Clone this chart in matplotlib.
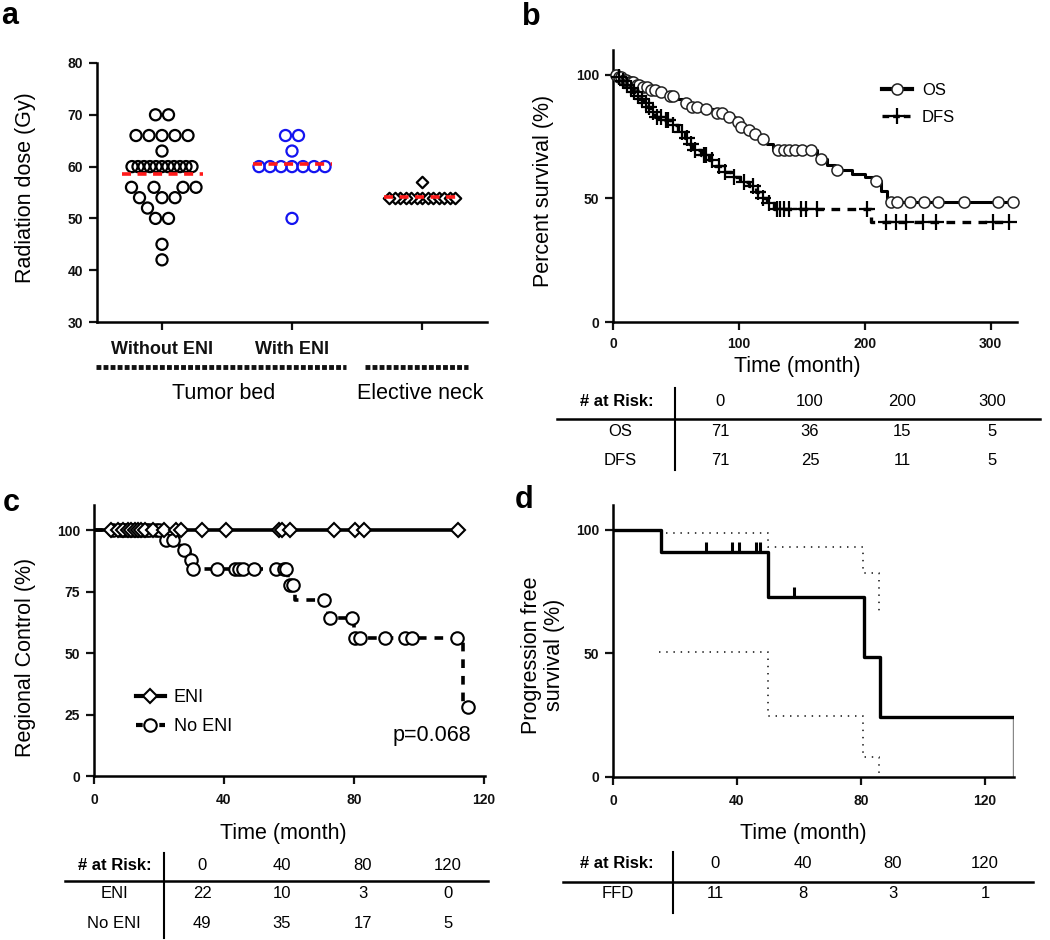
import numpy as np
import matplotlib
matplotlib.use("Agg")
import matplotlib.pyplot as plt
from matplotlib.lines import Line2D

plt.rcParams['font.family'] = ['Liberation Sans', 'DejaVu Sans']

# ---------------- data ----------------
# (a) radiation dose (Gy)
dose_without_eni = [70, 70, 66, 66, 66, 66, 66, 63, 60, 60, 60, 60, 60, 60, 60, 60, 60, 60, 60,
                    56, 56, 56, 56, 54, 54, 54, 52, 50, 50, 45, 42]
dose_with_eni = [66, 66, 63, 60, 60, 60, 60, 60, 60, 60, 50]
dose_elective = [57] + [54] * 13
cat_labels = ['Without ENI', 'With ENI', '']
group_names = ['Tumor bed', 'Elective neck']

# (b) overall / disease-free survival (time in months, survival in %)
os_event_t = [4, 8, 12, 17, 22, 28, 35, 42, 50, 56, 62, 70, 80, 90, 97, 100, 103, 110, 116, 122,
              127, 162, 170, 176, 190, 200, 207, 213, 218]
os_event_s = [99, 98, 97, 96, 95, 94, 93, 91.5, 90, 88.5, 87, 86, 84.5, 83, 81, 79, 77.5, 76, 74,
              72, 69.5, 66, 63.5, 61.5, 60, 58.5, 57, 53, 48.5]
os_censor_t = [2, 4.5, 6, 8.5, 10, 12.5, 14, 16, 19, 21, 24, 27, 30, 33, 38, 45, 48, 58, 63, 67,
               74, 83, 87, 92, 99, 102, 108, 113, 119, 131, 136, 140, 145, 150, 157, 165, 178,
               209, 221, 226, 236, 247, 258, 279, 306, 318]
dfs_event_t = [3, 6, 9, 12, 15, 18, 21, 24, 27, 30, 33, 40, 46, 52, 57, 60, 63, 70, 76, 81, 87,
               94, 101, 108, 114, 117, 122, 128, 205]
dfs_event_s = [99, 97.5, 96, 94.5, 93, 91.5, 90, 88.5, 87, 85, 83, 81.5, 79.5, 77, 74.5, 72, 69.5,
               67.5, 65.5, 63, 60.5, 58.5, 56.5, 55, 52.5, 50, 48, 45.5, 40.5]
dfs_censor_t = [5, 8, 11, 14, 17, 20, 23, 26, 29, 32, 35, 38, 42, 44, 48, 55, 59, 62, 65, 72, 74,
                79, 84, 89, 96, 104, 111, 115, 119, 124, 130, 133, 136, 140, 149, 153, 162, 202,
                217, 225, 233, 246, 257, 302, 315]
risk_b_times = [0, 100, 200, 300]
risk_b_os = [71, 36, 15, 5]
risk_b_dfs = [71, 25, 11, 5]

# (c) regional control
eni_censor_t = [5.3, 7.4, 8.9, 10.4, 11.5, 12.5, 13.5, 14.6, 15.6, 18.1, 21.7, 25.3, 26.8, 33.4,
                40.6, 56.9, 58.0, 60.5, 73.8, 80.5, 83.0, 112.2]
noeni_event_t = [21, 26.5, 29.5, 30.3, 59.7, 62, 72, 80, 113.5]
noeni_event_s = [96, 92, 88, 84.2, 77.8, 71.6, 64.2, 56.2, 28]
noeni_censor_t = [6, 8, 9, 10, 11, 12, 13, 14, 15, 16, 17, 19, 20, 22.2, 24.2, 27.8, 29.9, 30.6,
                  38, 43.3, 44.5, 46, 49.3, 56, 58.5, 59.2, 60.5, 61.3, 70.8, 72.8, 79.4, 80.5,
                  82, 89.7, 95.8, 97.9, 111.7, 115.2]
p_value_text = 'p=0.068'
risk_c_times = [0, 40, 80, 120]
risk_c_eni = [22, 10, 3, 0]
risk_c_noeni = [49, 35, 17, 5]

# (d) progression free survival with 95% CI
ffd_event_t = [15.5, 50, 81, 86]
ffd_event_s = [90.9, 72.7, 48.5, 24.2]
ffd_censor_t = [30, 38.5, 40.6, 46, 47.3, 58.3]
ffd_end_t = 129
ci_up_t = [17, 50, 80.6, 85.8]
ci_up_s = [98.6, 93, 82.4, 66]
ci_lo_t = [15, 50, 80.6, 85.8]
ci_lo_s = [50.7, 24.5, 8.1, 0]
risk_d_times = [0, 40, 80, 120]
risk_d_ffd = [11, 8, 3, 1]

# ---------------- helpers ----------------
W, H = 1050, 940
fig = plt.figure(figsize=(W / 100, H / 100), dpi=100)
TICK_FS = 10


def fx(x):
    return x / W


def fy(y):
    return 1 - y / H


def axes_px(l, t, r, b):
    return fig.add_axes([l / W, 1 - b / H, (r - l) / W, (b - t) / H])


def style(ax, xt, yt, xlabels=None, xpad=5, ypad=4):
    for s in ('top', 'right'):
        ax.spines[s].set_visible(False)
    for s in ('left', 'bottom'):
        ax.spines[s].set_linewidth(1.8)
    ax.tick_params(direction='out', length=6, width=1.6, colors='#111111')
    ax.tick_params(axis='x', pad=xpad)
    ax.tick_params(axis='y', pad=ypad)
    ax.set_yticks(yt, [str(v) for v in yt], fontsize=TICK_FS, fontweight='bold')
    if xlabels is None:
        xlabels = [str(v) for v in xt]
    ax.set_xticks(xt, xlabels, fontsize=TICK_FS, fontweight='bold')


def swarm_offsets(values, diam, ppx, ppy, max_half):
    vals = np.asarray(values, float)
    out = np.zeros(len(vals))
    placed = []
    grid = np.arange(-160, 161) * 0.5
    grid = grid[np.lexsort((grid, np.abs(grid)))]
    for v in np.unique(vals):
        idx = np.flatnonzero(vals == v)
        n = len(idx)
        step = diam if n == 1 else min(diam, 2 * max_half / (n - 1))
        yv = v * ppy

        def clear(c):
            return all((c - px) ** 2 + (yv - py) ** 2 >= diam ** 2 - 1e-6 for px, py in placed)

        row = []
        for _ in range(n):
            for c in grid:
                if all(abs(c - r) >= step - 1e-6 for r in row) and clear(c):
                    row.append(c)
                    break
        shift = -np.mean(row)
        if all(clear(r + shift) for r in row):
            row = [r + shift for r in row]
        for i, r in zip(idx, row):
            out[i] = r / ppx
        placed += [(r, yv) for r in row]
    return out


def km_xy(ev_t, ev_s, t_end):
    return np.r_[0, ev_t, t_end], np.r_[100, ev_s, ev_s[-1]]


def km_level(ev_t, ev_s, times):
    lev = np.r_[100, ev_s]
    return lev[np.searchsorted(ev_t, times, side='right')]


# ---------------- panel a ----------------
axa = axes_px(97, 63, 487, 322)
axa.set_xlim(0.5, 3.5)
axa.set_ylim(30, 80)
ppx, ppy = 130.0, 259.0 / 50.0
groups = [(dose_without_eni, 'o', 'black', 13, 64, 28),
          (dose_with_eni, 'o', '#1414f0', 13, 64, 32),
          (dose_elective, 'D', 'black', 11, 34, 33)]
for i, (vals, mk, col, diam, s, mh) in enumerate(groups):
    off = swarm_offsets(vals, diam, ppx, ppy, mh)
    xs = (i + 1) + off
    axa.scatter(xs, vals, s=s, marker=mk, facecolors='none' if mk == 'o' else 'white',
                edgecolors=col, linewidths=1.6, zorder=3)
    half = np.max(np.abs(off)) + diam / 2 / ppx
    axa.hlines(np.mean(vals), i + 1 - half, i + 1 + half, colors='#ff1a1a', lw=2.6,
               linestyles=(0, (2.5, 1.8)), zorder=4)
style(axa, [1, 2, 3], [30, 40, 50, 60, 70, 80], xlabels=cat_labels, xpad=8)
for lab in axa.get_xticklabels():
    lab.set_fontsize(13)
bracket_spans = [(0.49, 2.415), (2.56, 3.35)]
for (x0, x1), name in zip(bracket_spans, group_names):
    axa.plot([x0, x1], [-0.172, -0.172], transform=axa.get_xaxis_transform(), clip_on=False,
             color='#111111', lw=3.5, ls=(0, (1.0, 0.45)), solid_capstyle='butt')
    axa.text((x0 + x1) / 2 + (0.02 if x0 < 1 else 0.03), -0.275, name,
             transform=axa.get_xaxis_transform(), ha='center', va='center', fontsize=15.5)
fig.text(fx(26), fy(188), 'Radiation dose (Gy)', rotation=90, ha='center', va='center', fontsize=15.5)

# ---------------- panel b ----------------
axb = axes_px(613, 50, 1017, 322)
axb.set_xlim(0, 321)
axb.set_ylim(0, 110)
t, s = km_xy(os_event_t, os_event_s, os_censor_t[-1])
axb.step(t, s, where='post', color='black', lw=2.2, zorder=2)
axb.plot(os_censor_t, km_level(os_event_t, os_event_s, os_censor_t), ls='none', marker='o', ms=8,
         mfc='white', mec='#222222', mew=1.1, zorder=3, clip_on=False)
t, s = km_xy(dfs_event_t, dfs_event_s, dfs_censor_t[-1])
axb.step(t, s, where='post', color='black', lw=2.4, ls=(0, (2.6, 2.2)), zorder=2)
axb.plot(dfs_censor_t, km_level(dfs_event_t, dfs_event_s, dfs_censor_t), ls='none', marker='+',
         ms=11, mec='black', mew=1.6, zorder=3, clip_on=False)
style(axb, [0, 100, 200, 300], [0, 50, 100])
hb = [Line2D([], [], color='k', lw=3, marker='o', ms=8, mfc='white', mec='#222222', mew=1.1),
      Line2D([], [], color='k', lw=2.4, ls=(0, (2, 1.2)), marker='+', ms=11, mew=1.6)]
axb.legend(hb, ['OS', 'DFS'], loc='center left', bbox_to_anchor=(fx(882), fy(104)),
           bbox_transform=fig.transFigure, frameon=False, fontsize=12, handlelength=1.8,
           handletextpad=0.6, labelspacing=0.75, borderpad=0, borderaxespad=0)
fig.text(fx(544), fy(191), 'Percent survival (%)', rotation=90, ha='center', va='center', fontsize=15.5)
fig.text(fx(797), fy(366), 'Time (month)', ha='center', va='center', fontsize=15.5)

# ---------------- panel c ----------------
axc = axes_px(94, 505, 485, 776)
axc.set_xlim(0, 120.4)
axc.set_ylim(0, 110.3)
axc.plot([0, eni_censor_t[-1]], [100, 100], color='black', lw=2.6, zorder=2)
t, s = km_xy(noeni_event_t, noeni_event_s, noeni_censor_t[-1])
axc.step(t, s, where='post', color='black', lw=2.6, ls=(0, (2.4, 2.2)), zorder=2)
axc.plot(noeni_censor_t, km_level(noeni_event_t, noeni_event_s, noeni_censor_t), ls='none',
         marker='o', ms=9, mfc='white', mec='black', mew=1.5, zorder=3, clip_on=False)
axc.plot(eni_censor_t, np.full(len(eni_censor_t), 100.0), ls='none', marker='D', ms=7.5,
         mfc='white', mec='black', mew=1.5, zorder=4, clip_on=False)
style(axc, [0, 40, 80, 120], [0, 25, 50, 75, 100], xpad=6)
hc = [Line2D([], [], color='k', lw=3, marker='D', ms=7.5, mfc='white', mec='black', mew=1.5),
      Line2D([], [], color='k', lw=3, ls=(0, (1.6, 1.2)), marker='o', ms=9, mfc='white', mec='black', mew=1.5)]
axc.legend(hc, ['ENI', 'No ENI'], loc='center left', bbox_to_anchor=(fx(136), fy(712)),
           bbox_transform=fig.transFigure, frameon=False, fontsize=13, handlelength=1.6,
           handletextpad=0.5, labelspacing=0.65, borderpad=0, borderaxespad=0)
fig.text(fx(432), fy(736), p_value_text, ha='center', va='center', fontsize=15.5)
fig.text(fx(26), fy(657), 'Regional Control (%)', rotation=90, ha='center', va='center', fontsize=15.5)
fig.text(fx(283), fy(833), 'Time (month)', ha='center', va='center', fontsize=15.5)

# ---------------- panel d ----------------
axd = axes_px(613, 505, 1014, 777)
axd.set_xlim(0, 129.4)
axd.set_ylim(0, 110)
t, s = km_xy(ffd_event_t, ffd_event_s, ffd_end_t)
axd.step(t, s, where='post', color='black', lw=2.4, zorder=3)
axd.plot(ffd_censor_t, km_level(ffd_event_t, ffd_event_s, ffd_censor_t), ls='none', marker=2,
         ms=7, mec='black', mew=2.2, zorder=3)
axd.vlines(ffd_end_t, 0, ffd_event_s[-1], colors='#888888', lw=1.0)
for ct, cs in ((ci_up_t, ci_up_s), (ci_lo_t, ci_lo_s)):
    xs = np.r_[ct, ct[-1]]
    ys = np.r_[cs, cs[-1]]
    axd.step(xs, ys, where='post', color='#333333', lw=1.3, ls=(0, (0.8, 3.2)), zorder=2)
style(axd, [0, 40, 80, 120], [0, 50, 100], xpad=6)
fig.text(fx(543), fy(655), 'Progression free\nsurvival (%)', rotation=90, ha='center', va='center',
         fontsize=15.5, linespacing=1.1)
fig.text(fx(803), fy(833), 'Time (month)', ha='center', va='center', fontsize=15.5)

# ---------------- risk tables ----------------
def risk_table(head_x, head_y, vline_x, vline_y0, vline_y1, hline_y, hline_x0, hline_x1,
               col_x, times, row_labels, row_values, row_y, label_x):
    fig.text(fx(head_x), fy(head_y), '# at Risk:', ha='center', va='center', fontsize=12,
             fontweight='bold')
    fig.add_artist(Line2D([fx(vline_x)] * 2, [fy(vline_y0), fy(vline_y1)], color='black', lw=1.5))
    fig.add_artist(Line2D([fx(hline_x0), fx(hline_x1)], [fy(hline_y)] * 2, color='black', lw=1.8))
    for x, tt in zip(col_x, times):
        fig.text(fx(x), fy(head_y), str(tt), ha='center', va='center', fontsize=12)
    for lab, vals, y in zip(row_labels, row_values, row_y):
        fig.text(fx(label_x), fy(y), lab, ha='center', va='center', fontsize=12)
        for x, v in zip(col_x, vals):
            fig.text(fx(x), fy(y), str(v), ha='center', va='center', fontsize=12)


risk_table(617, 402, 675, 388, 470, 419, 557, 1040, [720, 810, 902, 992], risk_b_times,
           ['OS', 'DFS'], [risk_b_os, risk_b_dfs], [432, 461], 620)
risk_table(115, 865, 164, 853, 938, 881, 65, 488, [202, 282, 363, 448], risk_c_times,
           ['ENI', 'No ENI'], [risk_c_eni, risk_c_noeni], [893, 923], 114)
risk_table(617, 863, 673, 852, 913, 882, 563, 1033, [715, 803, 893, 985], risk_d_times,
           ['FFD'], [risk_d_ffd], [893], 618)

# ---------------- panel letters ----------------
for lt, x, y in (('a', 10, 16), ('b', 531, 17), ('c', 11, 503), ('d', 524, 500)):
    fig.text(fx(x), fy(y), lt, ha='center', va='center', fontsize=22, fontweight='bold')

fig.savefig('out.png', dpi=100)
